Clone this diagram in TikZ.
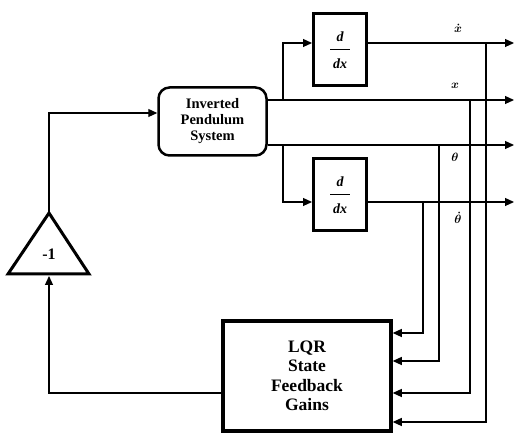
\documentclass[tikz,border=0pt]{standalone}
\usepackage{fontspec}
\setmainfont{Liberation Serif}
\usetikzlibrary{arrows.meta}
\tikzset{
  plantS/.style={draw=black, line width=2.5pt, rounded corners=11pt, minimum width=108pt, minimum height=68pt,
                 inner sep=0pt, align=center, font=\bfseries\fontsize{14.5}{16}\selectfont},
  derivS/.style={draw=black, line width=3pt, minimum width=53pt, minimum height=72pt, inner sep=0pt,
                 align=center, font=\bfseries\itshape\fontsize{14}{14}\selectfont},
  lqrS/.style  ={draw=black, line width=3.5pt, minimum width=168pt, minimum height=110pt, inner sep=0pt,
                 align=center, font=\bfseries\fontsize{17.5}{19.5}\selectfont},
  gainS/.style ={draw=black, line width=3pt, line join=miter},
  wire/.style  ={line width=1.2pt},
  sig/.style   ={wire, -{Triangle[length=9pt,width=8pt]}},
  lbl/.style   ={font=\boldmath\fontsize{12}{14}\selectfont},
}
\newcommand{\ddxtext}{d\\[-5pt]\rule{20pt}{1pt}\\[4pt]dx}
\begin{document}
\begin{tikzpicture}[x=1pt, y=-1pt]
  \useasboundingbox (0,0) rectangle (515,435);
  % blocks
  \node[plantS] (plant) at (212.5,121.5) {Inverted\\Pendulum\\System};
  \node[derivS] (dxtop) at (340,50)  {\ddxtext};
  \node[derivS] (dxbot) at (340,195) {\ddxtext};
  \node[lqrS]   (lqr)   at (307,376) {LQR\\State\\Feedback\\Gains};
  \coordinate (gtop) at (49,213);
  \coordinate (gbl)  at (8,274);
  \coordinate (gbr)  at (89,274);
  \coordinate (gbase) at (49,276);
  \draw[gainS] (gtop) -- (gbl) -- (gbr) -- cycle;
  \node[font=\bfseries\fontsize{16}{18}\selectfont] (gain) at (49,254) {-1};
  % branch points, outputs and taps
  \coordinate (brx)  at (283,100);
  \coordinate (brth) at (283,145);
  \coordinate (xdend)  at (514,43);
  \coordinate (xend)   at (514,100);
  \coordinate (thend)  at (514,145);
  \coordinate (thdend) at (514,202);
  \coordinate (txd)  at (486,43);
  \coordinate (tx)   at (470,100);
  \coordinate (tth)  at (439,145);
  \coordinate (tthd) at (423,202);
  % signals
  \draw[sig] (plant.east |- xend) -- (xend);
  \draw[sig] (plant.east |- thend) -- (thend);
  \draw[sig] (brx) |- ([yshift=7pt]dxtop.west);
  \draw[sig] (brth) |- ([yshift=-7pt]dxbot.west);
  \draw[sig] (dxtop.east |- xdend) -- (xdend);
  \draw[sig] (dxbot.east |- thdend) -- (thdend);
  \foreach \t/\d in {tthd/43, tth/15, tx/-17, txd/-46}
    \draw[sig] (\t) |- ([yshift=\d pt]lqr.east);
  \draw[sig] ([yshift=-17pt]lqr.west) -| (gbase);
  \draw[sig] (gtop) |- ([yshift=8.5pt]plant.west);
  % state labels
  \node[lbl] (lxd)  at (458,28)  {$\dot{x}$};
  \node[lbl] (lx)   at (455,86)  {$x$};
  \node[lbl] (lth)  at (455,157) {$\theta$};
  \node[lbl] (lthd) at (458,218) {$\dot{\theta}$};
\end{tikzpicture}
\end{document}
